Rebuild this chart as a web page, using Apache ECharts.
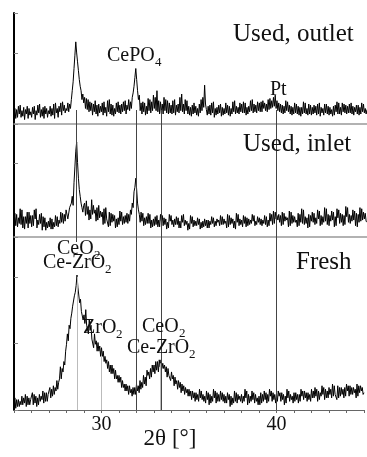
<!DOCTYPE html>
<html>
<head>
<meta charset="utf-8">
<script src="https://cdn.jsdelivr.net/npm/echarts@6/dist/echarts.min.js"></script>
<style>
  html, body { margin: 0; padding: 0; background: #fff; }
  #chart { width: 367px; height: 457px; }
</style>
</head>
<body>
<div id="chart"></div>
<script>
// 2θ scan from 25 to 45 deg, one reading every 0.05 deg
const scanStart = 25;
const scanStep = 0.05;

// intensities, arbitrary units per panel (0..100), one row per degree
const usedOutlet = [
  8, 14, 5, 13, 6, 16, 9, 17, 6, 12, 7, 15, 4, 13, 9, 16, 5, 14, 8, 11,
  6, 15, 9, 16, 4, 12, 8, 17, 10, 18, 6, 13, 7, 15, 5, 16, 9, 14, 6, 12,
  9, 16, 7, 14, 8, 18, 5, 19, 10, 14, 6, 16, 11, 19, 8, 20, 12, 17, 10, 14,
  12, 19, 11, 18, 14, 22, 30, 38, 50, 62, 74, 64, 56, 48, 40, 34, 30, 22, 27, 19,
  24, 14, 23, 13, 22, 11, 20, 12, 19, 8, 18, 11, 21, 9, 17, 7, 18, 10, 16, 11,
  19, 8, 20, 10, 15, 7, 21, 11, 22, 9, 18, 8, 17, 7, 14, 9, 19, 11, 20, 10,
  17, 9, 18, 11, 20, 12, 21, 9, 17, 13, 22, 12, 20, 14, 24, 28, 34, 42, 50, 40,
  30, 22, 26, 12, 19, 9, 20, 11, 19, 8, 16, 9, 23, 12, 22, 10, 20, 12, 26, 14,
  24, 12, 30, 11, 21, 9, 20, 10, 18, 9, 24, 12, 22, 10, 21, 9, 19, 10, 17, 9,
  21, 10, 22, 8, 17, 11, 18, 10, 24, 12, 27, 11, 18, 9, 22, 12, 21, 9, 16, 8,
  15, 7, 17, 9, 19, 10, 16, 8, 14, 7, 18, 10, 22, 12, 24, 15, 35, 18, 13, 8,
  16, 9, 17, 8, 19, 10, 20, 6, 14, 8, 15, 9, 17, 10, 18, 7, 15, 8, 14, 9,
  19, 10, 17, 8, 16, 7, 14, 9, 20, 11, 21, 9, 16, 10, 15, 9, 19, 11, 18, 10,
  20, 10, 19, 8, 15, 9, 16, 11, 21, 12, 22, 10, 18, 11, 17, 10, 20, 12, 19, 11,
  20, 11, 21, 14, 19, 12, 18, 11, 22, 13, 23, 14, 21, 15, 24, 16, 26, 14, 21, 12,
  19, 11, 18, 10, 17, 9, 16, 10, 21, 12, 20, 11, 17, 9, 16, 8, 15, 9, 19, 10,
  18, 9, 16, 8, 15, 7, 15, 9, 20, 10, 19, 9, 14, 8, 18, 9, 17, 8, 15, 9,
  17, 10, 16, 8, 18, 9, 19, 7, 15, 10, 14, 8, 18, 10, 18, 9, 16, 8, 15, 9,
  13, 7, 16, 8, 17, 11, 20, 9, 19, 9, 15, 8, 19, 11, 18, 10, 17, 9, 16, 10,
  18, 10, 19, 9, 16, 8, 15, 11, 17, 9, 17, 8, 15, 9, 19, 11, 18, 10, 14, 9,
  13
];

const usedInlet = [
  14, 21, 10, 20, 9, 17, 12, 25, 11, 24, 8, 18, 7, 18, 12, 22, 8, 22, 12, 19,
  9, 19, 10, 24, 16, 25, 8, 15, 11, 20, 12, 21, 6, 18, 9, 17, 6, 13, 8, 14,
  9, 17, 7, 16, 7, 13, 9, 19, 10, 18, 9, 15, 12, 22, 13, 21, 12, 20, 14, 24,
  23, 16, 17, 26, 25, 30, 36, 28, 48, 62, 76, 84, 66, 52, 42, 36, 30, 26, 22, 28,
  30, 19, 32, 20, 27, 15, 24, 16, 33, 20, 28, 21, 24, 14, 26, 15, 28, 17, 23, 18,
  22, 11, 25, 12, 26, 16, 17, 9, 22, 10, 21, 13, 20, 14, 19, 8, 16, 9, 17, 11,
  23, 14, 22, 11, 18, 12, 19, 13, 21, 12, 20, 14, 24, 20, 30, 26, 40, 44, 52, 42,
  30, 24, 20, 13, 22, 14, 21, 10, 17, 11, 18, 12, 21, 12, 20, 8, 15, 9, 16, 10,
  18, 11, 19, 9, 15, 9, 20, 14, 19, 10, 17, 11, 16, 7, 13, 8, 20, 14, 19, 11,
  15, 9, 16, 11, 18, 11, 17, 8, 14, 8, 19, 13, 20, 10, 15, 11, 14, 6, 12, 7,
  19, 12, 18, 9, 15, 10, 14, 10, 17, 11, 16, 7, 13, 8, 14, 9, 16, 10, 15, 8,
  15, 8, 14, 11, 18, 12, 17, 9, 14, 10, 16, 13, 15, 10, 19, 11, 18, 11, 16, 12,
  14, 8, 20, 9, 19, 11, 17, 12, 16, 8, 14, 7, 21, 13, 20, 10, 16, 11, 15, 9,
  19, 12, 18, 9, 17, 10, 16, 11, 15, 12, 20, 14, 19, 10, 14, 11, 18, 13, 17, 11,
  16, 10, 15, 12, 19, 11, 18, 9, 15, 10, 21, 14, 20, 11, 23, 12, 22, 16, 19, 15,
  20, 13, 19, 10, 22, 11, 21, 14, 18, 15, 17, 9, 23, 10, 22, 12, 19, 13, 18, 13,
  15, 9, 21, 10, 20, 13, 25, 12, 24, 11, 18, 12, 17, 8, 20, 9, 19, 14, 22, 13,
  21, 11, 17, 12, 24, 16, 23, 10, 19, 11, 18, 13, 26, 14, 25, 11, 20, 10, 19, 14,
  23, 15, 22, 9, 18, 10, 25, 17, 24, 12, 21, 13, 20, 10, 19, 11, 27, 18, 26, 13,
  20, 12, 19, 14, 24, 15, 23, 10, 21, 9, 20, 13, 26, 14, 25, 15, 22, 16, 21, 14,
  13
];

const fresh = [
  3, 7, 1, 6, 2, 6, 2, 5, 3, 8, 3, 7, 4, 9, 2, 8, 3, 7, 3, 6,
  5, 10, 3, 9, 4, 8, 2, 7, 3, 9, 5, 8, 6, 11, 4, 10, 5, 10, 5, 9,
  8, 13, 7, 12, 8, 14, 9, 13, 11, 17, 12, 16, 18, 25, 18, 24, 22, 28, 26, 34,
  38, 44, 40, 49, 47, 53, 56, 60, 61, 66, 68, 72, 78, 71, 70, 62, 64, 57, 58, 52,
  55, 50, 58, 49, 50, 44, 52, 46, 49, 41, 42, 36, 44, 38, 40, 34, 39, 34, 37, 31,
  36, 31, 34, 28, 31, 27, 29, 24, 28, 22, 26, 21, 26, 21, 24, 18, 23, 18, 20, 16,
  20, 16, 19, 13, 17, 13, 15, 11, 15, 11, 14, 9, 14, 10, 12, 8, 13, 9, 13, 9,
  15, 11, 14, 10, 17, 12, 16, 13, 20, 15, 19, 14, 23, 20, 22, 18, 24, 19, 26, 22,
  26, 21, 28, 23, 28, 22, 29, 25, 29, 24, 27, 24, 26, 22, 25, 19, 24, 20, 21, 17,
  22, 18, 20, 14, 19, 15, 17, 12, 17, 13, 16, 10, 15, 11, 14, 9, 13, 10, 12, 8,
  12, 8, 11, 6, 11, 7, 10, 5, 10, 6, 9, 5, 12, 7, 11, 6, 9, 5, 8, 4,
  11, 6, 10, 3, 9, 4, 8, 5, 12, 7, 11, 4, 10, 5, 9, 5, 11, 6, 10, 5,
  9, 4, 8, 4, 10, 6, 9, 2, 8, 3, 7, 4, 11, 5, 10, 4, 9, 6, 8, 5,
  9, 4, 8, 5, 12, 7, 11, 3, 9, 4, 8, 5, 11, 6, 10, 4, 9, 5, 7, 3,
  8, 3, 10, 4, 9, 5, 11, 6, 10, 4, 9, 5, 12, 8, 11, 5, 10, 6, 9, 4,
  9, 5, 11, 8, 10, 5, 10, 6, 9, 3, 8, 4, 12, 7, 11, 5, 9, 6, 8, 4,
  10, 5, 10, 6, 9, 4, 9, 5, 12, 8, 11, 6, 11, 7, 10, 5, 10, 6, 9, 5,
  12, 7, 11, 7, 13, 8, 12, 5, 11, 6, 10, 8, 14, 9, 13, 6, 12, 7, 11, 7,
  13, 9, 12, 7, 15, 8, 14, 9, 10, 6, 14, 7, 13, 8, 13, 9, 12, 7, 13, 8,
  15, 11, 14, 8, 14, 9, 13, 9, 13, 10, 12, 7, 15, 8, 14, 10, 14, 11, 13, 9,
  10
];

// reflection positions: [2θ, fraction of the overlay height where the line starts]
const refLines = [[28.55, 0.56], [31.9, 0], [33.35, 0], [39.85, 0]];
// light markers under the fresh-sample peaks: [2θ, top of marker]
const freshMarkers = [[28.6, 77], [30.0, 31], [33.35, 27]];

const xTickLabels = [30, 40];

const serif = '"Liberation Serif", "Times New Roman", serif';

function toPairs(vals) {
  return vals.map((v, i) => [+(scanStart + i * scanStep).toFixed(2), v]);
}

const chart = echarts.init(document.getElementById('chart'), null, { renderer: 'canvas' });

const panels = [
  { top: 13, height: 111, interval: 64, values: usedOutlet },
  { top: 124, height: 113, interval: 65, values: usedInlet },
  { top: 237, height: 173, interval: 38.5, values: fresh }
];

const grids = panels.map(p => ({ left: 14, right: 0, top: p.top, height: p.height }));
grids.push({ left: 14, right: 0, top: 110, height: 300 }); // overlay for the reference lines

const xAxes = panels.map((p, i) => {
  const last = i === panels.length - 1;
  return {
    type: 'value', gridIndex: i, min: 25, max: 45,
    interval: 1,
    axisLine: { show: true, lineStyle: { color: last ? '#666' : '#999', width: last ? 1 : 1.5 } },
    axisTick: { show: last, length: 3, lineStyle: { color: '#666' } },
    axisLabel: {
      show: last, margin: 5, color: '#111', fontFamily: serif, fontSize: 20,
      formatter: v => (xTickLabels.indexOf(v) >= 0 ? String(v) : '')
    },
    splitLine: { show: false }
  };
});
xAxes.push({ type: 'value', gridIndex: 3, min: 25, max: 45, show: false });

const yAxes = panels.map((p, i) => ({
  type: 'value', gridIndex: i, min: 0, max: 100, interval: p.interval,
  axisLine: { show: true, lineStyle: { color: '#000', width: 2 } },
  axisTick: { show: true, inside: true, length: 4, lineStyle: { color: '#888' } },
  axisLabel: { show: false },
  splitLine: { show: false }
}));
yAxes.push({ type: 'value', gridIndex: 3, min: 0, max: 1, show: false });

const series = panels.map((p, i) => ({
  type: 'line', xAxisIndex: i, yAxisIndex: i, z: 3,
  data: toPairs(p.values),
  showSymbol: false, symbol: 'none',
  lineStyle: { color: '#000', width: 1 },
  animation: false
}));

// light marker lines under the fresh-sample peaks
series[2].markLine = {
  silent: true, symbol: ['none', 'none'], label: { show: false },
  lineStyle: { color: '#bbb', width: 1, type: 'solid' },
  data: freshMarkers.map(m => [{ coord: [m[0], 0] }, { coord: [m[0], m[1]] }]),
  animation: false
};

series.push({
  type: 'line', xAxisIndex: 3, yAxisIndex: 3, z: 1, data: [],
  markLine: {
    silent: true, symbol: ['none', 'none'], label: { show: false },
    lineStyle: { color: '#444', width: 1, type: 'solid' },
    data: refLines.map(r => [{ coord: [r[0], 1] }, { coord: [r[0], r[1]] }]),
    animation: false
  }
});

function txt(text, x, y, size, align) {
  return {
    type: 'text', z: 10, silent: true,
    style: {
      text: text, x: x, y: y, fill: '#111',
      font: size + 'px ' + serif,
      align: align || 'left', verticalAlign: 'middle',
      textAlign: align || 'left', textVerticalAlign: 'middle'
    }
  };
}

const graphics = [
  txt('Used, outlet', 233, 34.5, 25),
  txt('CePO', 107, 56.2, 20), txt('4', 155, 62.6, 13),
  txt('Pt', 270, 90, 20),
  txt('Used, inlet', 243, 144.5, 25),
  txt('Fresh', 296, 262.5, 25),
  txt('CeO', 57, 249.2, 20), txt('2', 94, 255.6, 13),
  txt('Ce-ZrO', 43, 263.2, 20), txt('2', 105, 269.6, 13),
  txt('ZrO', 83, 328.2, 20), txt('2', 116, 334.6, 13),
  txt('CeO', 142, 327.2, 20), txt('2', 179, 333.6, 13),
  txt('Ce-ZrO', 127, 348.2, 20), txt('2', 189, 354.6, 13),
  txt('2θ [°]', 170, 439, 23, 'center')
];

chart.setOption({
  backgroundColor: '#fff',
  animation: false,
  grid: grids,
  xAxis: xAxes,
  yAxis: yAxes,
  series: series,
  graphic: graphics
});
</script>
</body>
</html>
